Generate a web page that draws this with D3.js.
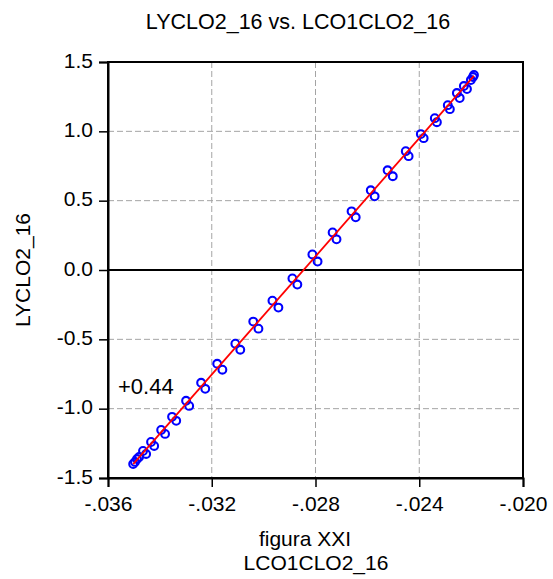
<!DOCTYPE html>
<html><head><meta charset="utf-8">
<script src="https://cdn.jsdelivr.net/npm/d3@7"></script>
<style>body{margin:0;background:#fff;} text{font-family:"Liberation Sans",Arial,sans-serif;fill:#000;}</style>
</head><body>
<svg id="c" width="553" height="579"></svg>
<script>
const titleText = "LYCLO2_16 vs. LCO1CLO2_16";
const yTitle = "LYCLO2_16";
const xTitleLines = ["figura XXI", "LCO1CLO2_16"];
const annotation = "+0.44";
const xTicks = [-0.036, -0.032, -0.028, -0.024, -0.020];
const xTickLabels = ["-.036", "-.032", "-.028", "-.024", "-.020"];
const yTicks = [-1.5, -1.0, -0.5, 0.0, 0.5, 1.0, 1.5];
const yTickLabels = ["-1.5", "-1.0", "-0.5", "0.0", "0.5", "1.0", "1.5"];
const xValues = [-0.03503,-0.03496,-0.03488,-0.03480,-0.03465,-0.03453,-0.03434,-0.03422,-0.03395,-0.03380,
  -0.03353,-0.03337,-0.03299,-0.03287,-0.03241,-0.03225,-0.03179,-0.03159,-0.03109,-0.03090,
  -0.03040,-0.03020,-0.02966,-0.02943,-0.02889,-0.02870,-0.02812,-0.02792,-0.02734,-0.02719,
  -0.02661,-0.02645,-0.02587,-0.02572,-0.02522,-0.02502,-0.02452,-0.02441,-0.02394,-0.02383,
  -0.02340,-0.02332,-0.02290,-0.02282,-0.02255,-0.02244,-0.02228,-0.02216,-0.02201,-0.02193,-0.02189];
const yValues = [-1.399,-1.384,-1.363,-1.348,-1.305,-1.327,-1.240,-1.269,-1.153,-1.182,
  -1.059,-1.088,-0.943,-0.980,-0.813,-0.857,-0.676,-0.719,-0.531,-0.575,
  -0.372,-0.423,-0.221,-0.271,-0.061,-0.105,0.112,0.061,0.271,0.221,
  0.423,0.380,0.575,0.531,0.719,0.676,0.857,0.821,0.980,0.951,
  1.095,1.066,1.189,1.160,1.276,1.240,1.327,1.305,1.370,1.392,1.406];
const fitX = [-0.03503, -0.02189];
const fitY = [-1.400, 1.400];

const svg = d3.select("#c");
const L = 108, R = 523, T = 62, B = 478;
const x = d3.scaleLinear().domain([-0.036, -0.020]).range([L, R]);
const y = d3.scaleLinear().domain([-1.5, 1.5]).range([B, T]);

// grid
const g = svg.append("g");
g.selectAll(".gx").data(xTicks.slice(1, -1)).enter().append("line")
  .attr("x1", d => x(d)).attr("x2", d => x(d)).attr("y1", T).attr("y2", B)
  .attr("stroke", "#a4a4a4").attr("stroke-width", 1).attr("stroke-dasharray", "6,3");
g.selectAll(".gy").data(yTicks.filter(d => d !== 0 && d !== 1.5 && d !== -1.5)).enter().append("line")
  .attr("y1", d => y(d)).attr("y2", d => y(d)).attr("x1", L).attr("x2", R)
  .attr("stroke", "#a4a4a4").attr("stroke-width", 1).attr("stroke-dasharray", "6,3");
// zero line
g.append("line").attr("x1", L).attr("x2", R).attr("y1", y(0)).attr("y2", y(0))
  .attr("stroke", "#000").attr("stroke-width", 2);

// points
const pts = xValues.map((v, i) => [v, yValues[i]]);
svg.append("g").selectAll("circle").data(pts).enter().append("circle")
  .attr("cx", d => x(d[0])).attr("cy", d => y(d[1])).attr("r", 3.9)
  .attr("fill", "none").attr("stroke", "#0000ff").attr("stroke-width", 2.1);

// fit line
svg.append("line").attr("x1", x(fitX[0])).attr("y1", y(fitY[0]))
  .attr("x2", x(fitX[1])).attr("y2", y(fitY[1]))
  .attr("stroke", "#ff0000").attr("stroke-width", 1.8);

// frame
svg.append("rect").attr("x", L).attr("y", T).attr("width", R - L).attr("height", B - T)
  .attr("fill", "none").attr("stroke", "#000").attr("stroke-width", 2);

// axes
const xAxis = d3.axisBottom(x).tickValues(xTicks).tickFormat((d, i) => xTickLabels[i]).tickSize(9).tickPadding(9);
const yAxis = d3.axisLeft(y).tickValues(yTicks).tickFormat((d, i) => yTickLabels[i]).tickSize(9).tickPadding(6);
const ax = svg.append("g").attr("transform", `translate(0,${B})`).call(xAxis);
const ay = svg.append("g").attr("transform", `translate(${L},0)`).call(yAxis);
[ax, ay].forEach(a => {
  a.select(".domain").attr("stroke", "#000").attr("stroke-width", 2);
  a.selectAll(".tick line").attr("stroke", "#000").attr("stroke-width", 1.5);
  a.selectAll(".tick text").attr("font-size", 21).attr("font-family", "Liberation Sans, Arial, sans-serif").attr("fill", "#000");
});
ay.selectAll(".tick text").attr("dy", "0.24em");

// titles
svg.append("text").attr("x", 298).attr("y", 29).attr("text-anchor", "middle").attr("font-size", 21.5).text(titleText);
svg.append("text").attr("transform", "translate(30,270) rotate(-90)").attr("text-anchor", "middle").attr("font-size", 21).text(yTitle);
svg.append("text").attr("x", 305).attr("y", 546).attr("text-anchor", "middle").attr("font-size", 21).text(xTitleLines[0]);
svg.append("text").attr("x", 316).attr("y", 570).attr("text-anchor", "middle").attr("font-size", 21).text(xTitleLines[1]);
svg.append("text").attr("x", 118).attr("y", 394).attr("font-size", 22).text(annotation);
</script>
</body></html>
